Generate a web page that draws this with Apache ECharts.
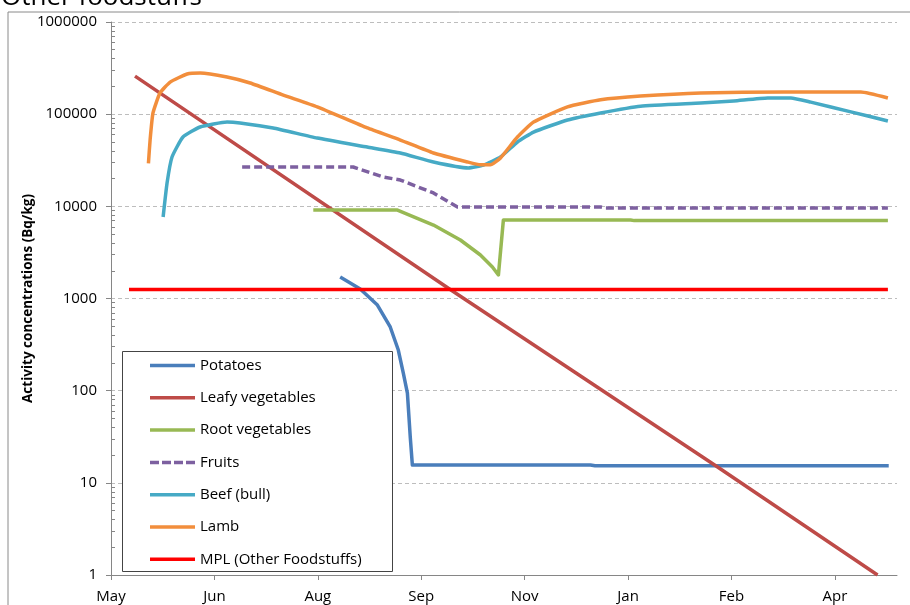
<!DOCTYPE html>
<html>
<head>
<meta charset="utf-8">
<script src="https://cdn.jsdelivr.net/npm/echarts@6/dist/echarts.min.js"></script>
<style>html,body{margin:0;padding:0;background:#fff}#c{width:910px;height:605px}</style>
</head>
<body>
<div id="c"></div>
<script>
// ---- data (x = days since start of axis, y = Bq/kg) ----
const xTickLabels = ['May', 'Jun', 'Aug', 'Sep', 'Nov', 'Jan', 'Feb', 'Apr'];
const yTickLabels = [1, 10, 100, 1000, 10000, 100000, 1000000];
const seriesNames = ['Potatoes', 'Leafy vegetables', 'Root vegetables', 'Fruits', 'Beef (bull)', 'Lamb', 'MPL (Other Foodstuffs)'];

const potatoes = [[110.8,1710],[120.5,1268],[128.8,849],[135.0,491],[138.9,276],[141.3,156],[143.3,94],[144.7,31],[145.7,15.6],[231.8,15.6],[234.0,15.3],[376.0,15.3]];
const leafy = [[11.6,259000],[164.0,1250],[292.0,15.5],[370.6,1]];
const root = [[97.8,9120],[138.5,9120],[155.9,6270],[168.9,4310],[178.6,2966],[184.4,2197],[187.3,1800],[189.7,7110],[251.2,7110],[253.0,7000],[375.6,7000]];
const fruits = [[63.4,26700],[117.1,26700],[131.7,20800],[139.9,19300],[155.9,13960],[167.5,9830],[236.7,9830],[239.0,9600],[375.6,9600]];
const beef = [[25.2,7660],[27.1,17900],[29.5,34300],[34.8,56500],[43.1,72600],[56.1,82200],[62.4,80200],[78.4,70800],[99.7,55100],[123.9,44000],[139.9,37900],[155.9,30300],[172.8,26100],[180.1,28100],[188.3,34300],[196.5,49900],[204.3,64000],[220.7,86400],[236.7,103000],[256.0,122000],[285.1,132000],[301.1,139000],[317.5,150000],[328.7,150000],[338.3,135000],[357.7,106000],[375.6,84300]];
const lamb = [[18.1,29300],[18.9,52400],[20.3,103000],[23.7,170000],[28.6,223000],[36.8,273000],[43.1,280000],[56.1,253000],[67.3,218000],[83.3,161000],[99.7,120000],[123.9,70800],[139.9,52400],[155.9,37900],[172.3,30300],[178.6,28200],[183.4,28200],[188.3,33500],[196.5,56500],[204.3,82200],[220.7,120000],[236.7,143000],[256.0,157000],[285.1,170000],[325.3,174000],[362.5,174000],[375.6,150000]];
const mpl = [[8.7,1250],[375.6,1250]];

const colors = ['#4A7EBB', '#BE4B48', '#98B954', '#7D60A0', '#46AAC5', '#F28E3C', '#FF0000'];

// minor log ticks (axis decoration)
const minorTicks = [];
for (let d = 1; d < 1000000; d *= 10) for (let m = 2; m <= 9; m++) minorTicks.push(d * m);

const FONT = 'Open Sans';
const SOLID_ICON = 'path://M0,0h45v3.5h-45z';
const DASH_ICON = 'path://M0,0h9v3.5h-9zM12,0h9v3.5h-9zM24,0h9v3.5h-9zM36,0h9v3.5h-9z';

const chart = echarts.init(document.getElementById('c'));
const datasets = [potatoes, leafy, root, fruits, beef, lamb, mpl];
const series = datasets.map((d, i) => ({
  name: seriesNames[i],
  type: 'line',
  data: d,
  showSymbol: false,
  symbol: 'none',
  smooth: (i === 4 || i === 5) ? 0.15 : false,
  lineStyle: { color: colors[i], width: 3.5, type: i === 3 ? [8, 4] : 'solid', cap: 'butt', join: 'round' },
  itemStyle: { color: colors[i] },
  z: 3,
  animation: false
}));

chart.setOption({
  animation: false,
  grid: { left: 111, right: 13, top: 22, bottom: 30, containLabel: false, outerBoundsMode: 'none' },
  graphic: [
    { type: 'rect', shape: { x: 8, y: 12, width: 920, height: 620 }, style: { fill: 'none', stroke: '#8a8a8a', lineWidth: 1 }, z: 0 },
    { type: 'text', left: 1, top: -15, style: { text: 'Other foodstuffs', font: '26px "' + FONT + '"', fill: '#000' }, z: 1 },
    { type: 'rect', shape: { x: 122.5, y: 351.5, width: 270, height: 220 }, style: { fill: '#fff', stroke: '#444', lineWidth: 1 }, z: 50 }
  ],
  legend: {
    orient: 'vertical', left: 150, top: 358, padding: 0,
    itemWidth: 45, itemHeight: 14, itemGap: 17.3,
    textStyle: { fontFamily: FONT, fontSize: 15, color: '#000' },
    data: seriesNames.map((n, i) => ({ name: n, icon: i === 3 ? DASH_ICON : SOLID_ICON, itemStyle: { color: colors[i] } })),
    z: 60, selectedMode: false
  },
  xAxis: {
    type: 'value', min: 0, max: 380, interval: 50,
    axisLine: { show: true, lineStyle: { color: '#868686', width: 1 } },
    axisTick: { show: true, length: 5, inside: false, lineStyle: { color: '#868686' }, customValues: xTickLabels.map((_, i) => i * 50) },
    axisLabel: { customValues: xTickLabels.map((_, i) => i * 50), formatter: v => xTickLabels[Math.round(v / 50)] || '', fontFamily: FONT, fontSize: 15, color: '#000', margin: 14 },
    splitLine: { show: false }
  },
  yAxis: [{
    type: 'log', logBase: 10, min: 1, max: 1000000, splitNumber: 6,
    name: 'Activity concentrations (Bq/kg)', nameLocation: 'middle', nameGap: 76, nameRotate: 90, nameMoveOverlap: false,
    nameTextStyle: { fontFamily: FONT, fontSize: 13.5, fontWeight: 'bold', color: '#000' },
    axisLine: { show: true, lineStyle: { color: '#868686', width: 1 } },
    axisTick: { show: true, length: 5, inside: false, lineStyle: { color: '#868686' } },
    axisLabel: { formatter: v => String(Math.round(v)), fontFamily: FONT, fontSize: 15, color: '#000', margin: 14 },
    splitLine: { show: true, lineStyle: { color: '#bdbdbd', type: [4, 3], width: 1 } }
  }, {
    type: 'log', logBase: 10, min: 1, max: 1000000, position: 'left',
    axisLine: { show: false },
    axisLabel: { show: false },
    splitLine: { show: false },
    axisTick: { show: true, inside: true, length: 4, customValues: minorTicks, lineStyle: { color: '#868686' } }
  }],
  series: series
});
</script>
</body>
</html>
